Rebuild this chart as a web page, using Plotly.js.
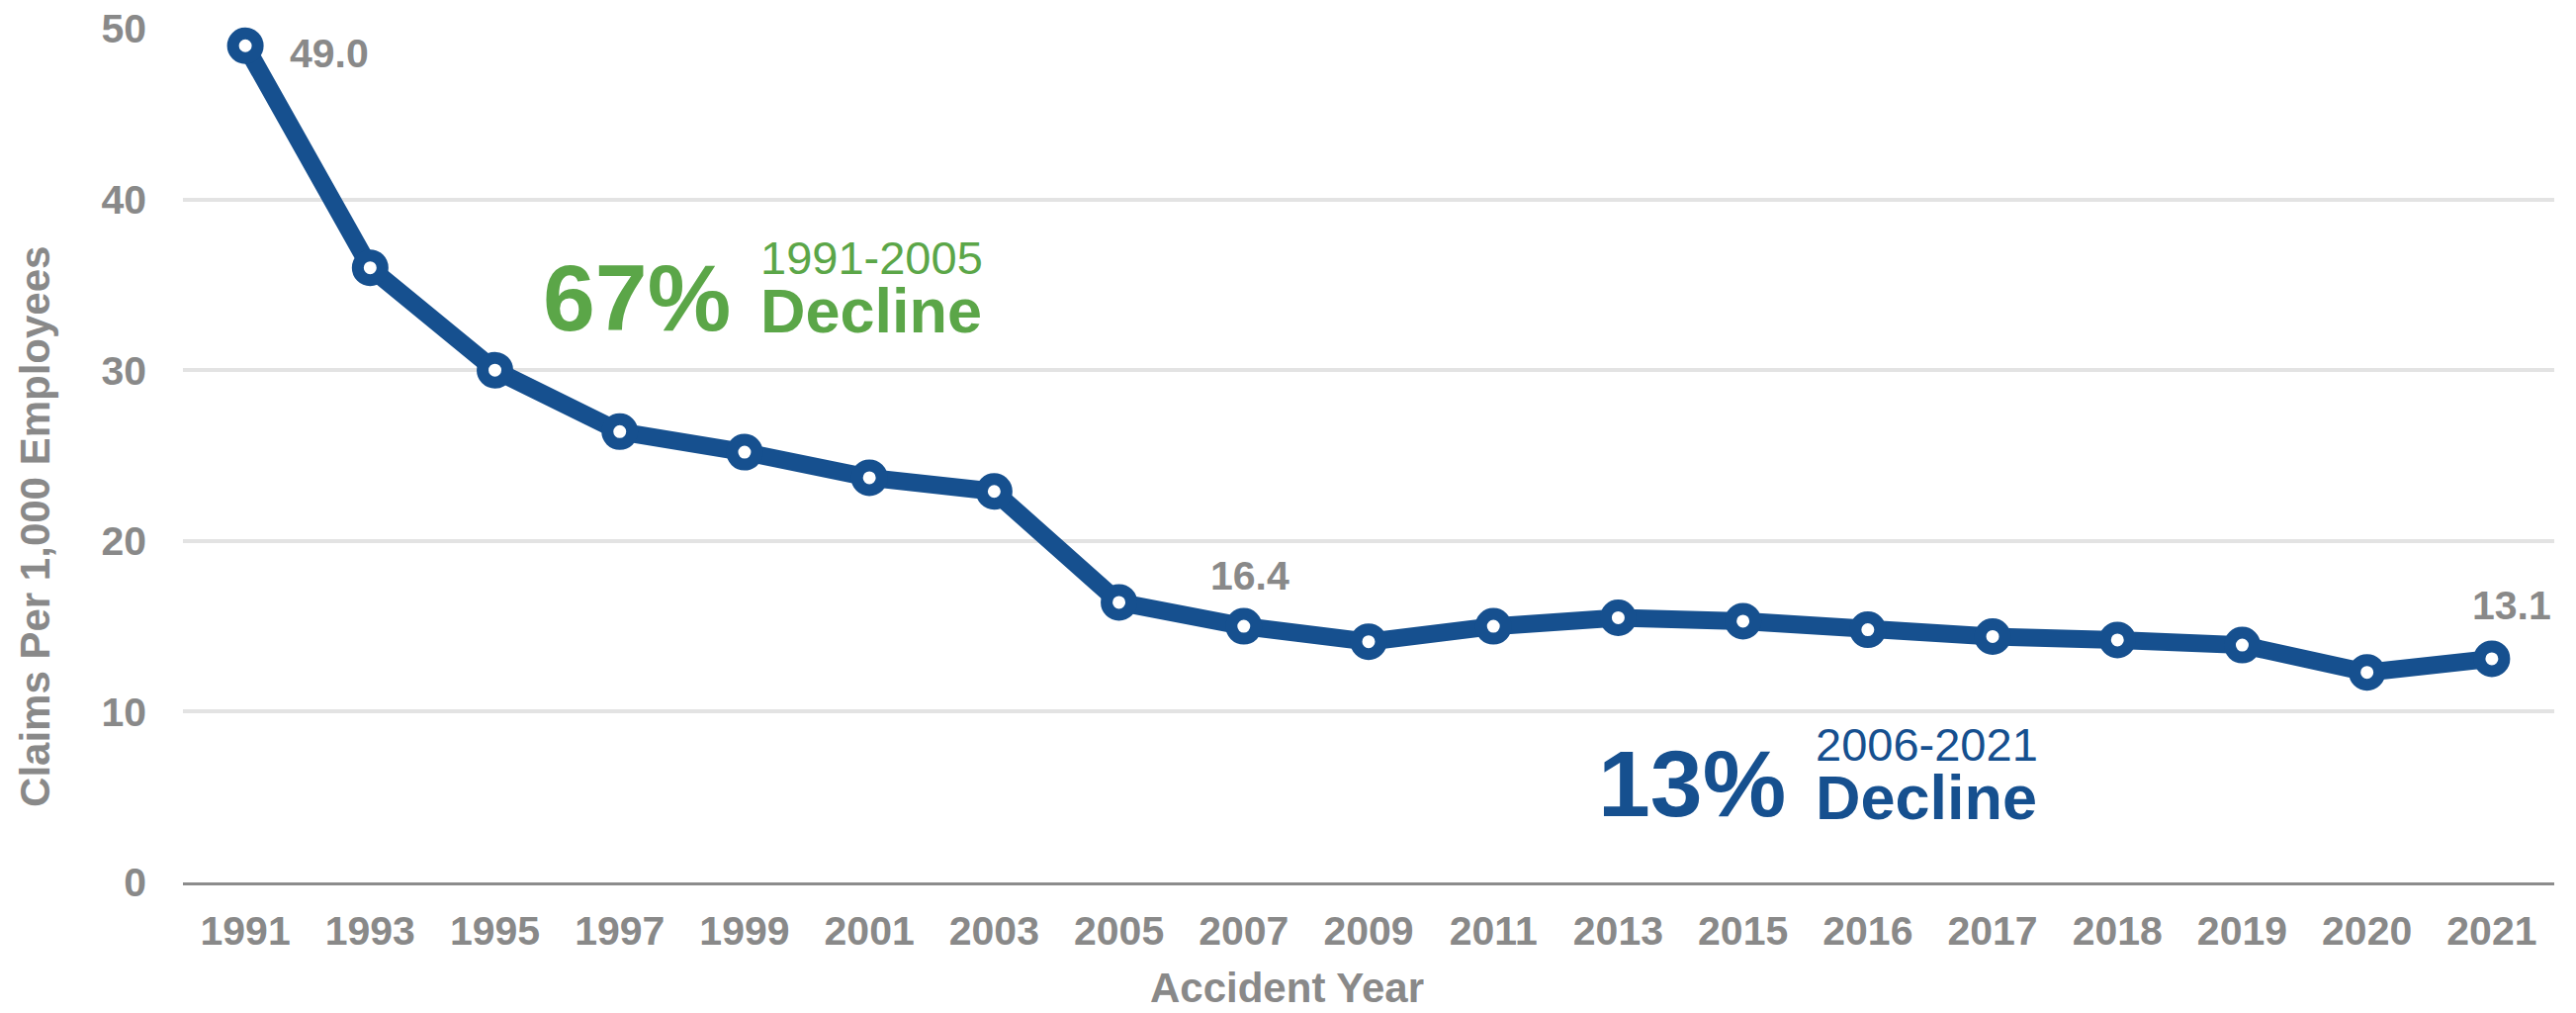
<!DOCTYPE html>
<html>
<head>
<meta charset="utf-8">
<script src="https://cdn.plot.ly/plotly-3.0.1.min.js"></script>
<style>
  html, body { margin: 0; padding: 0; background: #ffffff; }
  #chart { width: 2605px; height: 1024px; }
</style>
</head>
<body>
<div id="chart"></div>
<script>
// Accident years shown on the category axis
const years = ['1991','1993','1995','1997','1999','2001','2003','2005','2007','2009',
               '2011','2013','2015','2016','2017','2018','2019','2020','2021'];

// Claims per 1,000 employees for each accident year
const claimsPer1000 = [49.0, 36.0, 30.0, 26.4, 25.2, 23.7, 22.9, 16.4, 15.0, 14.1,
                       15.0, 15.5, 15.3, 14.8, 14.4, 14.2, 13.9, 12.3, 13.1];

// Y-axis ticks
const yTicks = [0, 10, 20, 30, 40, 50];

// Decline call-outs: percentage, period
const declinePct = ['67%', '13%'];
const declinePeriod = ['1991-2005', '2006-2021'];

// Points that carry a value label, with their offsets from the marker (px)
const labelIdx = [0, 7, 18];
const labelShift = [[85, -8], [132, 27], [20, 54]];

const BLUE = '#16508f';
const GREEN = '#5ba648';
const GRAY = '#898989';
const FONT = 'Liberation Sans, Arial, Helvetica, sans-serif';

const trace = {
  type: 'scatter',
  mode: 'lines+markers',
  x: years,
  y: claimsPer1000,
  line: { color: BLUE, width: 18 },
  marker: { size: 25, color: '#ffffff', line: { color: BLUE, width: 12 } },
  cliponaxis: false,
  hoverinfo: 'x+y'
};

const annotations = [];

// value labels, placed next to their markers (category index on x)
labelIdx.forEach((i, k) => {
  annotations.push({
    xref: 'x', yref: 'y', x: i, y: claimsPer1000[i],
    xshift: labelShift[k][0], yshift: labelShift[k][1],
    text: claimsPer1000[i].toFixed(1), showarrow: false,
    xanchor: 'center', yanchor: 'middle',
    font: { family: FONT, size: 41, color: GRAY, weight: 700 }
  });
});

// decline call-outs: big percentage plus a two-line "period / Decline" block
function callout(pct, period, color, xPctRight, yPct, xText, yText) {
  annotations.push({
    xref: 'paper', yref: 'paper', x: xPctRight, y: yPct,
    xanchor: 'right', yanchor: 'middle', showarrow: false, text: pct,
    font: { family: FONT, size: 95, color: color, weight: 700 }
  });
  annotations.push({
    xref: 'paper', yref: 'paper', x: xText, y: yText,
    xanchor: 'left', yanchor: 'middle', align: 'left', showarrow: false,
    text: '<span style="font-size:47px">' + period + '</span><br>' +
          '<b><span style="font-size:63px">Decline</span></b>',
    font: { family: FONT, size: 45, color: color, weight: 400 }
  });
}
callout(declinePct[0], declinePeriod[0], GREEN, 0.2318, 0.6848, 0.2427, 0.6964);
callout(declinePct[1], declinePeriod[1], BLUE, 0.6768, 0.1159, 0.6877, 0.1263);

// axis titles
annotations.push({
  xref: 'paper', yref: 'paper', x: 0.4658, y: -0.1230,
  xanchor: 'center', yanchor: 'middle', showarrow: false, text: 'Accident Year',
  font: { family: FONT, size: 42, color: GRAY, weight: 700 }
});
annotations.push({
  xref: 'paper', yref: 'paper', x: -0.0626, y: 0.4171,
  xanchor: 'center', yanchor: 'middle', showarrow: false, textangle: -90,
  text: 'Claims Per 1,000 Employees',
  font: { family: FONT, size: 42, color: GRAY, weight: 700 }
});

const layout = {
  width: 2605,
  height: 1024,
  margin: { l: 185, r: 22, t: 29, b: 132, pad: 0 },
  paper_bgcolor: '#ffffff',
  plot_bgcolor: '#ffffff',
  showlegend: false,
  font: { family: FONT, color: GRAY },
  xaxis: {
    type: 'category',
    range: [-0.5, years.length - 0.5],
    showgrid: false,
    zeroline: false,
    showline: true,
    linecolor: '#8c8c8c',
    linewidth: 3,
    ticks: '',
    ticklabelstandoff: 11,
    tickfont: { family: FONT, size: 41, color: GRAY, weight: 700 },
    fixedrange: true
  },
  yaxis: {
    range: [0, 50],
    tickmode: 'array',
    tickvals: yTicks,
    ticktext: yTicks.map(String),
    showgrid: true,
    gridcolor: '#e3e3e3',
    gridwidth: 4,
    zeroline: false,
    showline: false,
    ticks: '',
    ticklabelstandoff: 36,
    tickfont: { family: FONT, size: 41, color: GRAY, weight: 700 },
    fixedrange: true
  },
  annotations: annotations
};

Plotly.newPlot('chart', [trace], layout, { displayModeBar: false, staticPlot: true });
</script>
</body>
</html>
